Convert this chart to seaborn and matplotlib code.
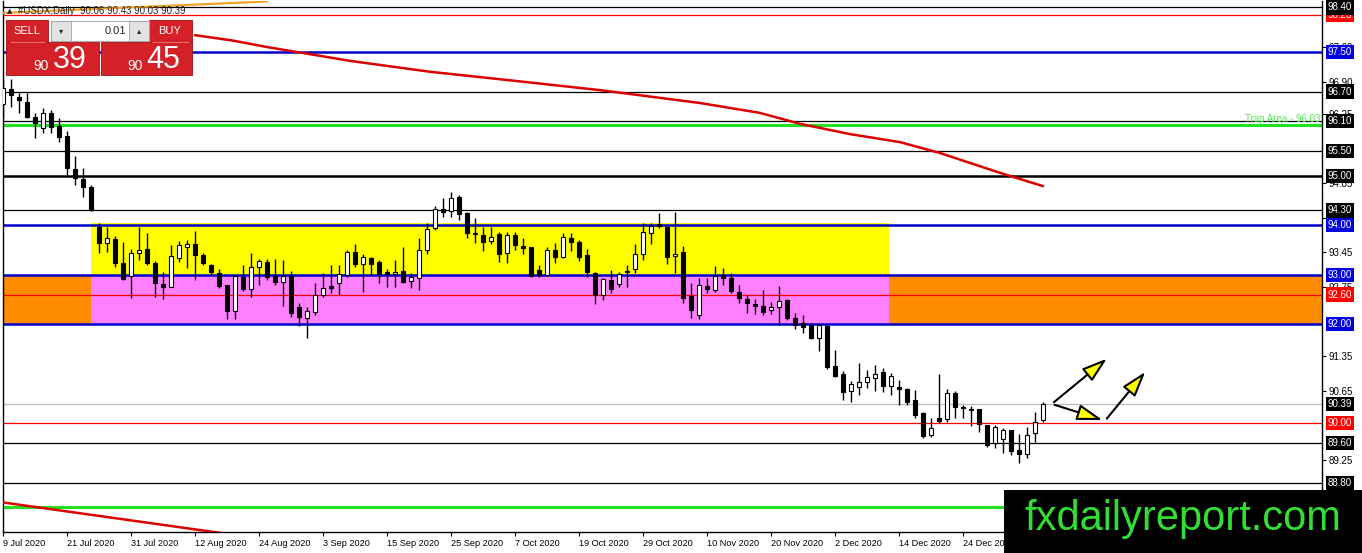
import numpy as np
import pandas as pd
import matplotlib
matplotlib.use('Agg')
import matplotlib.pyplot as plt
import seaborn as sns
from matplotlib.patches import Rectangle, FancyArrowPatch

# candles (daily bars, index 0 = 9 Jul 2020)
opens = [96.45, 96.75, 96.59, 96.49, 96.19, 95.96, 96.27, 96.00, 95.80, 95.14,
         94.93, 94.77, 93.96, 93.64, 93.72, 93.24, 92.97, 93.44, 93.52, 93.24,
         92.81, 92.75, 93.34, 93.56, 93.62, 93.40, 93.20, 93.04, 92.79, 92.27,
         92.95, 92.71, 93.16, 93.26, 92.97, 92.85, 92.97, 92.35, 92.13, 92.25,
         92.59, 92.77, 92.83, 93.00, 93.46, 93.22, 93.34, 93.26, 93.05, 93.02,
         93.08, 92.87, 92.93, 93.50, 93.94, 94.33, 94.29, 94.57, 94.25, 93.85,
         93.80, 93.68, 93.82, 93.44, 93.80, 93.58, 93.56, 93.10, 93.00, 93.50,
         93.36, 93.74, 93.66, 93.40, 93.04, 92.59, 92.89, 92.81, 93.06, 93.12,
         93.42, 93.84, 94.03, 93.96, 93.38, 93.46, 92.57, 92.19, 92.77, 92.69,
         93.00, 92.93, 92.65, 92.51, 92.41, 92.37, 92.29, 92.35, 92.49, 92.13,
         92.02, 91.98, 91.72, 91.96, 91.16, 90.99, 90.65, 90.73, 90.83, 90.91,
         91.04, 90.75, 90.73, 90.69, 90.47, 90.21, 89.76, 90.11, 90.09, 90.61,
         90.33, 90.27, 90.29, 89.97, 89.60, 89.68, 89.86, 89.46, 89.38, 89.80,
         90.06]
highs = [96.93, 96.95, 96.67, 96.67, 96.27, 96.37, 96.33, 96.17, 95.90, 95.40,
         95.16, 94.81, 94.05, 93.96, 93.78, 93.66, 93.52, 93.96, 93.84, 93.28,
         93.06, 93.60, 93.68, 93.70, 93.88, 93.44, 93.22, 93.12, 92.79, 93.00,
         93.20, 93.44, 93.32, 93.32, 93.32, 93.30, 93.08, 92.43, 92.35, 92.83,
         93.04, 93.20, 93.20, 93.50, 93.62, 93.42, 93.36, 93.30, 93.12, 93.30,
         93.56, 93.04, 93.74, 94.05, 94.39, 94.55, 94.67, 94.61, 94.27, 94.15,
         93.96, 93.96, 93.86, 93.86, 93.86, 93.74, 93.56, 93.20, 93.56, 93.64,
         93.84, 93.84, 93.70, 93.52, 93.06, 92.93, 93.10, 93.06, 93.20, 93.62,
         94.05, 94.05, 94.25, 93.96, 94.27, 93.58, 92.83, 92.93, 92.93, 93.18,
         93.14, 93.04, 92.79, 92.59, 92.51, 92.69, 92.45, 92.77, 92.51, 92.23,
         92.19, 92.00, 92.02, 91.98, 91.48, 91.06, 90.85, 91.22, 91.08, 91.18,
         91.12, 91.02, 90.87, 90.71, 90.67, 90.23, 90.11, 90.99, 90.69, 90.65,
         90.37, 90.35, 90.29, 89.97, 89.96, 89.90, 89.86, 89.78, 89.92, 90.23,
         90.43]
lows = [96.17, 96.39, 96.27, 96.17, 95.76, 95.86, 95.86, 95.68, 95.02, 94.81,
        94.57, 94.29, 93.44, 93.46, 93.15, 92.89, 92.53, 93.30, 93.20, 92.55,
        92.51, 92.75, 93.26, 93.14, 92.89, 93.20, 93.00, 92.73, 92.11, 92.11,
        92.67, 92.55, 92.79, 92.90, 92.79, 92.37, 92.15, 91.97, 91.72, 92.19,
        92.55, 92.63, 92.60, 92.95, 93.16, 92.65, 93.00, 92.83, 92.75, 92.75,
        92.83, 92.73, 92.69, 93.42, 93.90, 94.17, 94.17, 94.11, 93.74, 93.64,
        93.48, 93.62, 93.26, 93.24, 93.50, 93.42, 92.95, 92.95, 93.00, 93.24,
        93.34, 93.48, 93.28, 92.95, 92.41, 92.49, 92.63, 92.75, 92.75, 93.04,
        93.30, 93.62, 93.94, 93.22, 93.04, 92.43, 92.13, 92.11, 92.63, 92.65,
        92.79, 92.63, 92.43, 92.23, 92.21, 92.19, 92.21, 91.98, 92.09, 91.90,
        91.82, 91.70, 91.46, 91.10, 90.93, 90.47, 90.43, 90.57, 90.71, 90.65,
        90.63, 90.57, 90.37, 90.37, 90.11, 89.70, 89.72, 90.01, 90.03, 90.11,
        90.11, 89.94, 89.83, 89.52, 89.50, 89.40, 89.36, 89.20, 89.30, 89.62,
        90.03]
closes = [96.77, 96.63, 96.53, 96.19, 96.07, 96.27, 95.98, 95.78, 95.16, 94.95,
          94.77, 94.31, 93.64, 93.74, 93.24, 92.91, 93.44, 93.50, 93.24, 92.83,
          92.75, 93.38, 93.60, 93.62, 93.40, 93.24, 93.06, 92.77, 92.27, 92.97,
          92.71, 93.16, 93.28, 92.95, 92.85, 92.97, 92.23, 92.15, 92.27, 92.59,
          92.73, 92.73, 93.02, 93.46, 93.22, 93.36, 93.22, 93.02, 93.01, 93.06,
          92.85, 92.95, 93.50, 93.92, 94.33, 94.27, 94.55, 94.23, 93.84, 93.82,
          93.66, 93.76, 93.42, 93.80, 93.60, 93.54, 92.97, 93.00, 93.50, 93.36,
          93.76, 93.66, 93.36, 93.06, 92.59, 92.91, 92.71, 93.02, 93.08, 93.42,
          93.86, 93.98, 93.99, 93.36, 93.42, 92.53, 92.28, 92.79, 92.71, 92.97,
          92.93, 92.67, 92.53, 92.43, 92.37, 92.25, 92.35, 92.47, 92.13, 91.98,
          91.94, 91.72, 91.98, 91.14, 90.95, 90.63, 90.79, 90.83, 90.93, 90.99,
          90.75, 90.95, 90.69, 90.43, 90.17, 89.74, 89.90, 90.05, 90.61, 90.33,
          90.31, 90.29, 89.99, 89.56, 89.92, 89.86, 89.44, 89.38, 89.76, 90.03,
          90.39]

date_ticks = list(range(0, 121, 8))
date_labels = ['9 Jul 2020', '21 Jul 2020', '31 Jul 2020', '12 Aug 2020', '24 Aug 2020',
               '3 Sep 2020', '15 Sep 2020', '25 Sep 2020', '7 Oct 2020', '19 Oct 2020',
               '29 Oct 2020', '10 Nov 2020', '20 Nov 2020', '2 Dec 2020', '14 Dec 2020',
               '24 Dec 2020']

# moving averages
ma_slow_x = [24, 28.75, 33, 37.1, 43.4, 53.4, 62.1, 74.6, 87.1, 94.6, 99.6, 105.9, 112.1, 117.1, 124.6, 130]
ma_slow_y = [97.84, 97.73, 97.60, 97.49, 97.32, 97.10, 96.95, 96.73, 96.47, 96.27, 96.05, 95.84, 95.68, 95.46, 95.06, 94.79]
ma_low_x = [0, 30]
ma_low_y = [88.40, 87.72]
ma_top_x = [0, 33]
ma_top_y = [98.29, 98.52]

# horizontal levels
black_levels = [98.40, 96.70, 96.10, 95.50, 94.30, 89.60, 88.80]
thick_black_levels = [95.00]
blue_levels = [97.50, 94.00, 93.00, 92.00]
red_levels = [98.25, 92.60, 90.00]
green_levels = [96.03, 88.30]
last_price = 90.39

# zones
zone_start, zone_end = 11, 110.75
supply_zone = [93.00, 94.05]
demand_zone = [92.00, 93.00]

# right axis tick values
right_ticks = [97.60, 96.90, 96.25, 94.85, 94.15, 93.45, 92.75,
               91.35, 90.65, 89.25]
boxed_labels = [(98.25, '#FF0000'), (98.40, '#000000'), (97.50, '#0000E0'),
                (96.70, '#000000'), (96.10, '#000000'), (95.50, '#000000'),
                (95.00, '#000000'), (94.30, '#000000'), (94.00, '#0000E0'),
                (93.00, '#0000E0'), (92.60, '#FF0000'), (92.00, '#0000E0'),
                (90.39, '#000000'), (90.00, '#FF0000'), (89.60, '#000000'),
                (88.80, '#000000')]

# projection arrows
arrow_paths = [((131.1, 90.39), (138.25, 91.34)),
               ((131.1, 90.39), (137.75, 90.05)),
               ((137.75, 90.05), (143.0, 91.08))]

W, H = 1362, 553
sns.set_style('white')
plt.rcParams['font.family'] = ['Liberation Sans', 'DejaVu Sans']

fig = plt.figure(figsize=(W / 100, H / 100), dpi=100)
ax = fig.add_axes([3 / W, 21 / H, 1319 / W, 531 / H])
x_max = (1322 - 3) / 8
ax.set_xlim(0, x_max)
ax.set_ylim(87.803, 98.53)

# zones
ax.add_patch(Rectangle((zone_start, supply_zone[0]), zone_end - zone_start,
                       supply_zone[1] - supply_zone[0], fc='#FFFF00', ec='none', zorder=0))
ax.add_patch(Rectangle((zone_start, demand_zone[0]), zone_end - zone_start,
                       demand_zone[1] - demand_zone[0], fc='#FF80FF', ec='none', zorder=0))
ax.add_patch(Rectangle((0, demand_zone[0]), zone_start,
                       demand_zone[1] - demand_zone[0], fc='#FF8C00', ec='none', zorder=0))
ax.add_patch(Rectangle((zone_end, demand_zone[0]), x_max - zone_end,
                       demand_zone[1] - demand_zone[0], fc='#FF8C00', ec='none', zorder=0))

# levels
for p in black_levels:
    ax.axhline(p, color='black', lw=0.9, zorder=2)
for p in thick_black_levels:
    ax.axhline(p, color='black', lw=1.8, zorder=2)
for p in blue_levels:
    ax.axhline(p, color='#0000CC', lw=1.8, zorder=2)
for p in red_levels:
    ax.axhline(p, color='#FF0000', lw=0.9, zorder=2)
for p in green_levels:
    ax.axhline(p, color='#22E022', lw=2.2, zorder=2)
ax.axhline(last_price, color='#BBBBBB', lw=0.9, zorder=2)

# moving averages
sns.lineplot(x=ma_slow_x, y=ma_slow_y, ax=ax, color='#DD0000', lw=1.8, sort=False, zorder=3)
sns.lineplot(x=ma_low_x, y=ma_low_y, ax=ax, color='#DD0000', lw=1.8, sort=False, zorder=3)
sns.lineplot(x=ma_top_x, y=ma_top_y, ax=ax, color='#F0A020', lw=1.5, sort=False, zorder=3)

# candles
df = pd.DataFrame({'o': opens, 'h': highs, 'l': lows, 'c': closes})
df['i'] = np.arange(len(df))
up = df['c'] >= df['o']
ax.vlines(df['i'], df['l'], df['h'], color='black', lw=1.0, zorder=4)
body = (df['c'] - df['o']).abs().clip(lower=0.025)
bottom = df[['o', 'c']].min(axis=1)
ax.bar(df['i'], body, bottom=bottom, width=0.62,
       color=np.where(up, 'white', 'black'), edgecolor='black', linewidth=0.8, zorder=5)

# arrows
for (x0, y0), (x1, y1) in arrow_paths:
    ax.add_patch(FancyArrowPatch((x0, y0), (x1, y1),
                                 arrowstyle='-|>,head_length=1.1,head_width=0.35',
                                 mutation_scale=14, fc='#FFFF00', ec='black', lw=1.5, zorder=6))

ax.text(0.9985, 96.03 + 0.02, 'Trap Area - 96.03', transform=ax.get_yaxis_transform(),
        ha='right', va='bottom', color='#55EE55', fontsize=7, zorder=6)

# axes styling
for s in ['left', 'right', 'bottom']:
    ax.spines[s].set_color('black')
    ax.spines[s].set_linewidth(1.0)
ax.spines['top'].set_visible(False)
ax.yaxis.tick_right()
ax.set_yticks(right_ticks)
ax.set_yticklabels([f'{v:.2f}' for v in right_ticks])
ax.set_xticks(date_ticks)
ax.set_xticklabels(date_labels)
for lbl in ax.get_xticklabels():
    lbl.set_ha('left')
ax.tick_params(axis='y', right=True, length=3, pad=2, labelsize=7, colors='black')
ax.tick_params(axis='x', bottom=True, length=3, pad=2, labelsize=6.6, colors='black')

for p, col in boxed_labels:
    ax.annotate(f'{p:.2f}', xy=(1, p), xycoords=('axes fraction', 'data'),
                xytext=(4.2, 0), textcoords='offset points', ha='left', va='center',
                color='white', fontsize=7, annotation_clip=False, zorder=8,
                bbox=dict(boxstyle='square,pad=0.22', fc=col, ec='none'))

# overlay in pixel units for the trade panel and the watermark
ov = fig.add_axes([0, 0, 1, 1], zorder=10)
ov.set_xlim(0, W)
ov.set_ylim(H, 0)
ov.axis('off')
ov.patch.set_alpha(0)

ov.text(7, 11, '\u25B2', fontsize=5, va='center', ha='left', family='DejaVu Sans')
ov.text(18, 11, '#USDX,Daily  90.06 90.43 90.03 90.39', fontsize=7, va='center', ha='left')

red = '#D42027'
ov.add_patch(Rectangle((6, 20), 42, 22, fc=red, ec='#A01010', lw=0.6))
ov.add_patch(Rectangle((149, 20), 43, 22, fc=red, ec='#A01010', lw=0.6))
ov.add_patch(Rectangle((6, 42), 93, 33, fc=red, ec='#A01010', lw=0.6))
ov.add_patch(Rectangle((101, 42), 91, 33, fc=red, ec='#A01010', lw=0.6))
ov.add_patch(Rectangle((51, 21), 98, 20, fc='white', ec='#A0A0A0', lw=0.6))
ov.add_patch(Rectangle((51, 21), 20, 20, fc='#E2E2E2', ec='#A0A0A0', lw=0.6))
ov.add_patch(Rectangle((129, 21), 20, 20, fc='#E2E2E2', ec='#A0A0A0', lw=0.6))
ov.plot([10, 45], [41.5, 41.5], color='#F08080', lw=0.6)
ov.plot([152, 189], [41.5, 41.5], color='#F08080', lw=0.6)
ov.text(27, 31, 'SELL', color='white', fontsize=8, ha='center', va='center')
ov.text(170, 31, 'BUY', color='white', fontsize=8, ha='center', va='center')
ov.text(61, 31, '\u25BE', fontsize=6, ha='center', va='center', family='DejaVu Sans')
ov.text(139, 31, '\u25B4', fontsize=6, ha='center', va='center', family='DejaVu Sans')
ov.text(126, 31, '0.01', fontsize=8, ha='right', va='center')
ov.text(49, 66, '90', color='white', fontsize=10, ha='right', va='center')
ov.text(53, 60, '39', color='white', fontsize=22, ha='left', va='center')
ov.text(143, 66, '90', color='white', fontsize=10, ha='right', va='center')
ov.text(146, 60, '45', color='white', fontsize=22, ha='left', va='center')

ov.add_patch(Rectangle((1004, 490), W - 1004, H - 490, fc='black', ec='none'))
ov.text(1183, 519, 'fxdailyreport.com', color='#33DD33', fontsize=30, ha='center', va='center')

fig.savefig('out.png', dpi=100)
